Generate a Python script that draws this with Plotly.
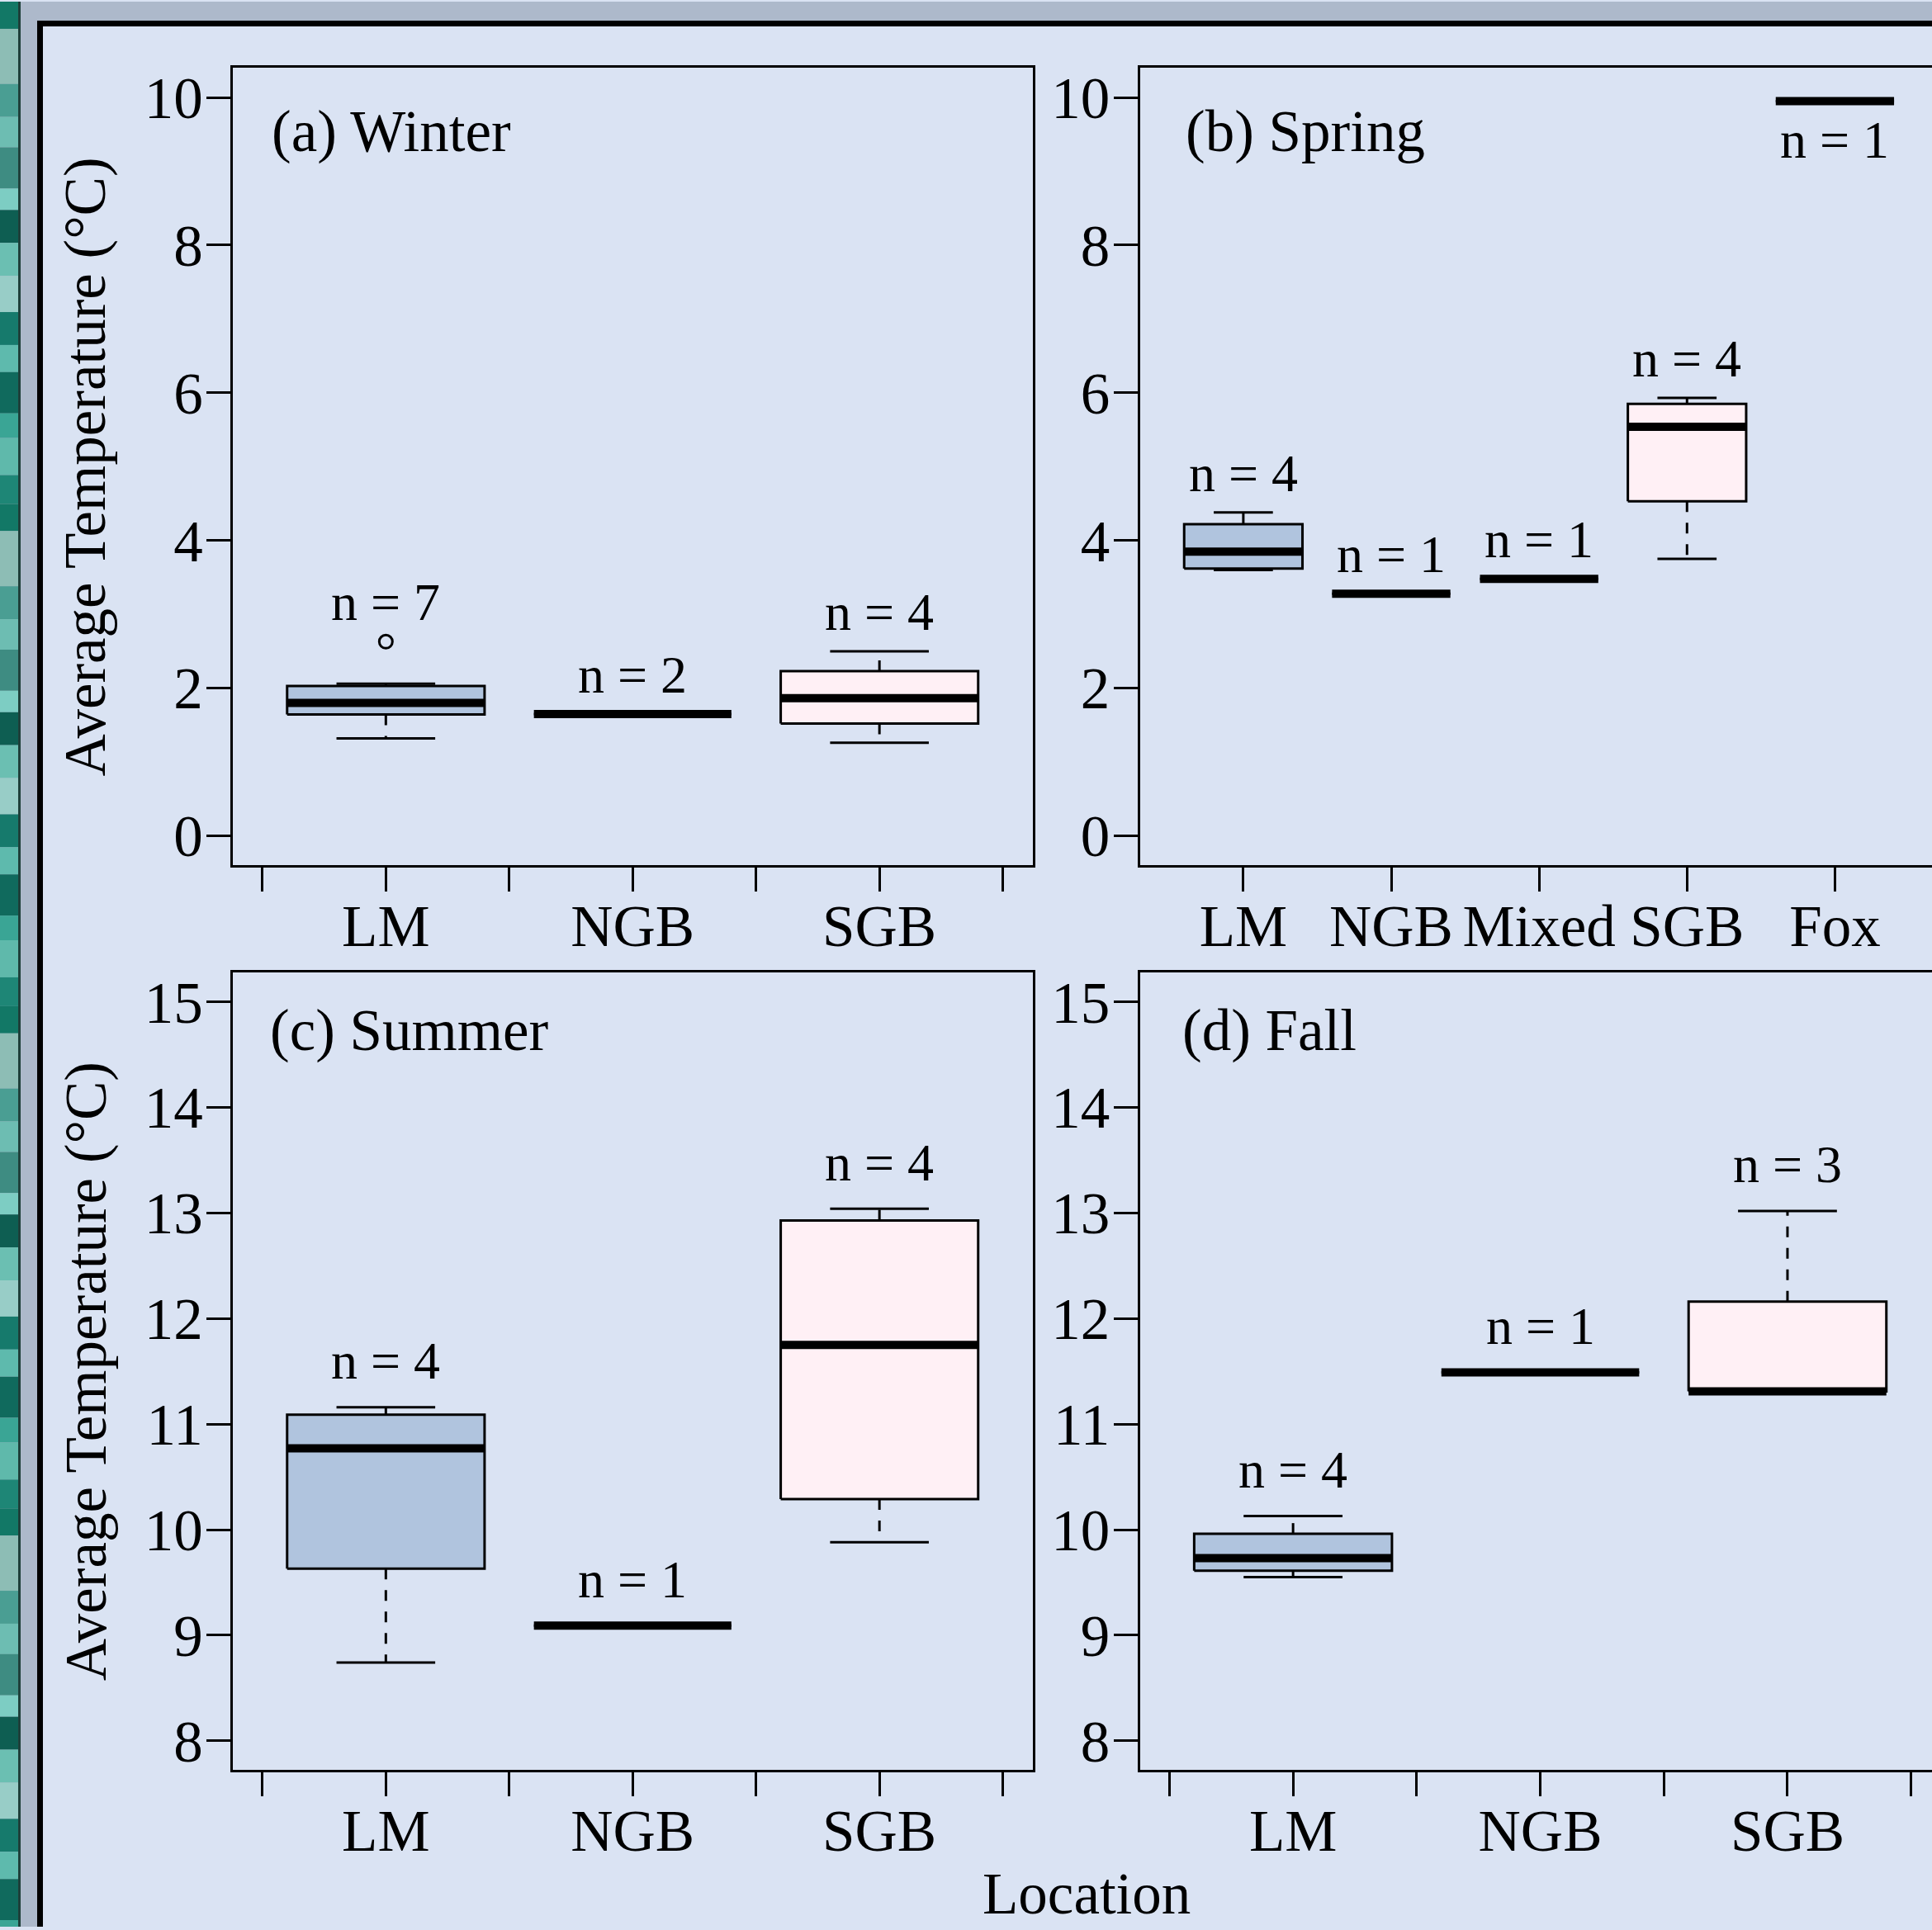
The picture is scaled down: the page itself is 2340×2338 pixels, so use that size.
import plotly.graph_objects as go

W, H = 2340, 2338

# ---------------- data (five-number summaries) ----------------
winter_cats = ["LM", "NGB", "SGB"]
winter_lo = [1.32, 1.65, 1.26]
winter_q1 = [1.645, 1.65, 1.52]
winter_med = [1.80, 1.65, 1.865]
winter_q3 = [2.03, 1.65, 2.23]
winter_hi = [2.06, 1.65, 2.50]
winter_n = [7, 2, 4]
winter_out = [[2.63], [], []]

spring_cats = ["LM", "NGB", "Mixed", "SGB", "Fox"]
spring_lo = [3.60, 3.28, 3.48, 3.75, 9.95]
spring_q1 = [3.62, 3.28, 3.48, 4.53, 9.95]
spring_med = [3.85, 3.28, 3.48, 5.54, 9.95]
spring_q3 = [4.22, 3.28, 3.48, 5.85, 9.95]
spring_hi = [4.38, 3.28, 3.48, 5.93, 9.95]
spring_n = [4, 1, 1, 4, 1]
spring_out = [[], [], [], [], []]

summer_cats = ["LM", "NGB", "SGB"]
summer_lo = [8.74, 9.09, 9.88]
summer_q1 = [9.63, 9.09, 10.29]
summer_med = [10.77, 9.09, 11.75]
summer_q3 = [11.09, 9.09, 12.93]
summer_hi = [11.16, 9.09, 13.04]
summer_n = [4, 1, 4]
summer_out = [[], [], []]

fall_cats = ["LM", "NGB", "SGB"]
fall_lo = [9.55, 11.49, 11.31]
fall_q1 = [9.61, 11.49, 11.31]
fall_med = [9.73, 11.49, 11.31]
fall_q3 = [9.96, 11.49, 12.16]
fall_hi = [10.13, 11.49, 13.02]
fall_n = [4, 1, 3]
fall_out = [[], [], []]

titles = ["(a) Winter", "(b) Spring", "(c) Summer", "(d) Fall"]
y_ticks_top = [0, 2, 4, 6, 8, 10]
y_ticks_bottom = [8, 9, 10, 11, 12, 13, 14, 15]

# ---------------- style ----------------
BG = "#DAE3F3"
FRAME_GRAY = "#ADB9CB"
FILL = {"LM": "#B0C4DE", "SGB": "#FFF0F5"}
DEFAULT_FILL = "#DAE3F3"
FONT = "Liberation Serif"
FS = 71
FS_N = 64


def px(x):
    return x / W


def py(y):
    return 1 - y / H


fig = go.Figure()

panels = [
    dict(cats=winter_cats, lo=winter_lo, q1=winter_q1, med=winter_med, q3=winter_q3,
         hi=winter_hi, n=winter_n, out=winter_out, ax="", x0=282, x1=1250.5, y0=80.5, y1=1049,
         yr=(-0.4, 10.4), yt=y_ticks_top, half=True, off=0.53, full=True),
    dict(cats=spring_cats, lo=spring_lo, q1=spring_q1, med=spring_med, q3=spring_q3,
         hi=spring_hi, n=spring_n, out=spring_out, ax="2", x0=1380.5, x1=2347.8, y0=80.5, y1=1049,
         yr=(-0.4, 10.4), yt=y_ticks_top, half=False, off=0.53, full=False),
    dict(cats=summer_cats, lo=summer_lo, q1=summer_q1, med=summer_med, q3=summer_q3,
         hi=summer_hi, n=summer_n, out=summer_out, ax="3", x0=282, x1=1250.5, y0=1179, y1=2148,
         yr=(7.72, 15.28), yt=y_ticks_bottom, half=True, off=0.44, full=True),
    dict(cats=fall_cats, lo=fall_lo, q1=fall_q1, med=fall_med, q3=fall_q3,
         hi=fall_hi, n=fall_n, out=fall_out, ax="4", x0=1380.5, x1=2350.6, y0=1179, y1=2148,
         yr=(7.72, 15.28), yt=y_ticks_bottom, half=True, off=0.44, full=False),
]

annotations = []
layout_axes = {}

for p in panels:
    k = len(p["cats"])
    xr0, xr1 = 0.5 - 0.04 * k, k + 0.5 + 0.04 * k
    x1_clip = min(p["x1"], W)
    xr1_clip = xr0 + (xr1 - xr0) * (x1_clip - p["x0"]) / (p["x1"] - p["x0"])
    xa = "x" + p["ax"]
    ya = "y" + p["ax"]
    for i, c in enumerate(p["cats"]):
        pos = i + 1
        lo, q1, med, q3, hi = p["lo"][i], p["q1"][i], p["med"][i], p["q3"][i], p["hi"][i]
        fill = FILL.get(c, DEFAULT_FILL)
        # box
        fig.add_trace(go.Scatter(
            x=[pos - 0.4, pos + 0.4, pos + 0.4, pos - 0.4, pos - 0.4],
            y=[q1, q1, q3, q3, q1], mode="lines", fill="toself", fillcolor=fill,
            line=dict(color="black", width=3), xaxis=xa, yaxis=ya,
            hoverinfo="skip", showlegend=False))
        # whiskers (dashed)
        if hi > q3:
            fig.add_trace(go.Scatter(x=[pos, pos], y=[q3, hi], mode="lines",
                                     line=dict(color="black", width=3, dash="13px,13px"),
                                     xaxis=xa, yaxis=ya, hoverinfo="skip", showlegend=False))
        if lo < q1:
            fig.add_trace(go.Scatter(x=[pos, pos], y=[q1, lo], mode="lines",
                                     line=dict(color="black", width=3, dash="13px,13px"),
                                     xaxis=xa, yaxis=ya, hoverinfo="skip", showlegend=False))
        # staples
        for v in (lo, hi):
            fig.add_trace(go.Scatter(x=[pos - 0.2, pos + 0.2], y=[v, v], mode="lines",
                                     line=dict(color="black", width=3),
                                     xaxis=xa, yaxis=ya, hoverinfo="skip", showlegend=False))
        # median
        fig.add_trace(go.Scatter(x=[pos - 0.4, pos + 0.4], y=[med, med], mode="lines",
                                 line=dict(color="black", width=10),
                                 xaxis=xa, yaxis=ya, hoverinfo="skip", showlegend=False))
        # outliers
        if p["out"][i]:
            fig.add_trace(go.Scatter(x=[pos] * len(p["out"][i]), y=p["out"][i], mode="markers",
                                     marker=dict(symbol="circle-open", size=16, color="black",
                                                 line=dict(width=3)),
                                     xaxis=xa, yaxis=ya, hoverinfo="skip", showlegend=False))
        # n labels
        top = max([hi] + p["out"][i])
        ly = top + p["off"]
        if ly > p["yr"][1] - 0.3:
            ly = top - p["off"]
        annotations.append(dict(x=pos, y=ly, xref=xa, yref=ya, text=f"n = {p['n'][i]}",
                                showarrow=False, font=dict(family=FONT, size=FS_N, color="black"),
                                xanchor="center", yanchor="middle"))

    if p["half"]:
        tv = [0.5 + 0.5 * j for j in range(2 * k + 1)]
        tt = [p["cats"][j // 2] if j % 2 == 1 else "" for j in range(2 * k + 1)]
    else:
        tv = list(range(1, k + 1))
        tt = p["cats"]

    key = p["ax"]
    layout_axes["xaxis" + key] = dict(
        domain=[px(p["x0"]), px(x1_clip)], range=[xr0, xr1_clip], anchor=ya,
        tickmode="array", tickvals=tv, ticktext=tt, ticks="outside", ticklen=29, tickwidth=3,
        tickcolor="black", showline=True, linecolor="black", linewidth=3, mirror=True,
        showgrid=False, zeroline=False, ticklabelstandoff=-20,
        tickfont=dict(family=FONT, size=FS, color="black"))
    layout_axes["yaxis" + key] = dict(
        domain=[py(p["y1"]), py(p["y0"])], range=list(p["yr"]), anchor=xa,
        tickmode="array", tickvals=p["yt"], ticks="outside", ticklen=29, tickwidth=3,
        tickcolor="black", showline=True, linecolor="black", linewidth=3,
        mirror=True if p["full"] else False, showgrid=False, zeroline=False,
        ticklabelstandoff=-10, tickfont=dict(family=FONT, size=FS, color="black"))

# panel titles
title_pos = [(327, 158), (1434, 158), (325, 1250), (1430, 1250)]
for t, (tx, ty) in zip(titles, title_pos):
    annotations.append(dict(x=px(tx), y=py(ty), xref="paper", yref="paper", text=t,
                            showarrow=False, xanchor="left", yanchor="middle",
                            font=dict(family=FONT, size=FS, color="black")))

# axis titles
for cy in (565, 1663.5):
    annotations.append(dict(x=px(104), y=py(cy), xref="paper", yref="paper",
                            text="Average Temperature (°C)", textangle=-90, showarrow=False,
                            xanchor="center", yanchor="middle",
                            font=dict(family=FONT, size=FS, color="black")))
annotations.append(dict(x=px(1316), y=py(2298), xref="paper", yref="paper", text="Location",
                        showarrow=False, xanchor="center", yanchor="middle",
                        font=dict(family=FONT, size=FS, color="black")))

# decorative slide frame
shapes = []
shapes.append(dict(type="rect", xref="paper", yref="paper", x0=0, x1=1, y0=py(23), y1=1,
                   fillcolor=FRAME_GRAY, line=dict(width=0), layer="below"))
shapes.append(dict(type="rect", xref="paper", yref="paper", x0=0, x1=px(45), y0=0, y1=1,
                   fillcolor=FRAME_GRAY, line=dict(width=0), layer="below"))
shapes.append(dict(type="rect", xref="paper", yref="paper", x0=px(45), x1=1, y0=py(30), y1=py(23),
                   fillcolor="black", line=dict(width=0), layer="below"))
shapes.append(dict(type="rect", xref="paper", yref="paper", x0=px(45), x1=px(52), y0=0, y1=py(23),
                   fillcolor="black", line=dict(width=0), layer="below"))
texture = [(33, "#127866"), (67, "#8DBDB5"), (40, "#4A9E93"), (37, "#6DBDB2"), (50, "#3E8C82"),
           (26, "#7DCDC3"), (40, "#0E5E52"), (40, "#6BBFB2"), (44, "#98CDC7"), (40, "#167A6C"),
           (33, "#5EBAAD"), (50, "#106A5D"), (30, "#3AA595"), (45, "#5FB9AB"), (35, "#1E8676")]
yy = 0
j = 0
while yy < H:
    h, col = texture[j % len(texture)]
    shapes.append(dict(type="rect", xref="paper", yref="paper", x0=0, x1=px(22),
                       y0=py(min(yy + h, H)), y1=py(yy), fillcolor=col, line=dict(width=0),
                       layer="below"))
    yy += h
    j += 1
shapes.append(dict(type="rect", xref="paper", yref="paper", x0=px(22), x1=px(25), y0=0, y1=1,
                   fillcolor="#1F3F3A", line=dict(width=0), layer="below"))

fig.update_layout(
    width=W, height=H, margin=dict(l=0, r=0, t=0, b=0, pad=0),
    paper_bgcolor=BG, plot_bgcolor="rgba(0,0,0,0)",
    annotations=annotations, shapes=shapes, showlegend=False,
    **layout_axes)

fig.write_html("out.html", config={"displayModeBar": False},
               post_script="document.body.style.margin='0px';document.body.style.overflow='hidden';")
